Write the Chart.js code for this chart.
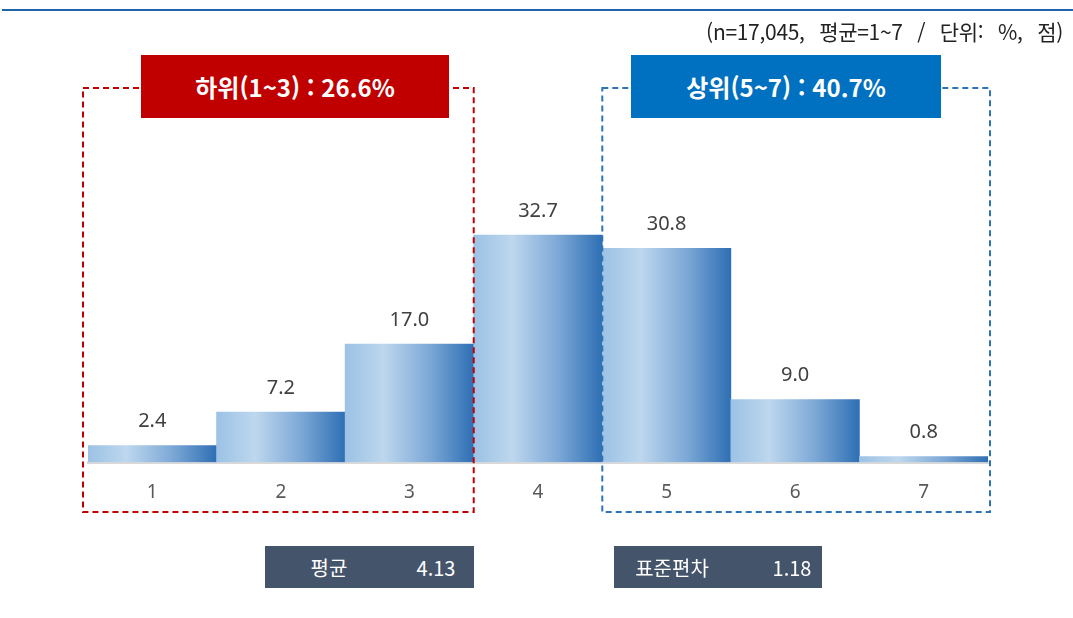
<!DOCTYPE html>
<html lang="ko">
<head>
<meta charset="utf-8">
<script src="https://cdn.jsdelivr.net/npm/chart.js@4.4.1/dist/chart.umd.min.js"></script>
<style>
    html, body { margin: 0; padding: 0; background: #fff; }
    body { width: 1073px; height: 618px; position: relative; overflow: hidden;
           font-family: "Noto Sans CJK KR", "Noto Sans", sans-serif; }
    #wrap { position: absolute; left: 0; top: 0; width: 1073px; height: 618px; }
    .topline { position: absolute; left: 2px; right: 0; top: 9px; height: 2px; background: #1f64ad; }
    .note { position: absolute; right: 10px; top: 16px; font-size: 21px; color: #222;
            letter-spacing: -0.3px; word-spacing: 9px; white-space: nowrap; }
    .tag { position: absolute; top: 55px; height: 63px; color: #fff; font-weight: bold;
           font-size: 24px; display: flex; align-items: center; justify-content: center; }
    .tag.low { left: 141px; width: 308px; background: #c00000; }
    .tag.high { left: 631px; width: 310px; background: #0070c0; }
    .stat { position: absolute; top: 546px; height: 42px; background: #44546a; color: #fff;
            font-size: 20px; }
    .stat span { position: absolute; top: 50%; transform: translate(-50%, -50%); white-space: nowrap; }
</style>
</head>
<body>
<div id="wrap"><canvas id="distChart"></canvas></div>
<div class="topline"></div>
<div class="note">(n=17,045, 평균=1~7 / 단위: %, 점)</div>
<div class="tag low" id="lowTag"></div>
<div class="tag high" id="highTag"></div>
<div class="stat" style="left:265px;width:209px;"><span style="left:64px;">평균</span><span style="left:171px;" id="meanVal"></span></div>
<div class="stat" style="left:614px;width:208px;"><span style="left:58px;">표준편차</span><span style="left:178px;" id="sdVal"></span></div>

<script>
// chart data
const categories = ['1', '2', '3', '4', '5', '6', '7'];
const shares = [2.4, 7.2, 17.0, 32.7, 30.8, 9.0, 0.8];
const lowLabel = '하위(1~3) : 26.6%';
const highLabel = '상위(5~7) : 40.7%';
const meanValue = '4.13';
const sdValue = '1.18';

document.getElementById('lowTag').textContent = lowLabel;
document.getElementById('highTag').textContent = highLabel;
document.getElementById('meanVal').textContent = meanValue;
document.getElementById('sdVal').textContent = sdValue;

function barGradient(context) {
    const chart = context.chart;
    if (!chart.chartArea) return '#7aa7d6';
    const xScale = chart.scales.x;
    const step = xScale.width / categories.length;
    const cx = xScale.getPixelForValue(context.dataIndex);
    const g = chart.ctx.createLinearGradient(cx - step / 2, 0, cx + step / 2, 0);
    g.addColorStop(0, '#9cc2e5');
    g.addColorStop(0.3, '#bdd7ee');
    g.addColorStop(0.65, '#7ea9d7');
    g.addColorStop(1, '#2e6fb4');
    return g;
}

// value labels above bars + dashed group boxes
const overlayPlugin = {
    id: 'overlay',
    afterDatasetsDraw(chart) {
        const ctx = chart.ctx;
        const meta = chart.getDatasetMeta(0);
        ctx.save();
        ctx.fillStyle = '#404040';
        ctx.font = '20px "Noto Sans", "DejaVu Sans", sans-serif';
        ctx.textAlign = 'center';
        ctx.textBaseline = 'middle';
        meta.data.forEach((bar, i) => {
            ctx.fillText(shares[i].toFixed(1), bar.x, bar.y - 24);
        });

        const xScale = chart.scales.x;
        const step = xScale.width / categories.length;
        const edge = i => xScale.left + step * i;
        ctx.lineWidth = 2;
        ctx.setLineDash([6, 4]);
        ctx.strokeStyle = '#c00000';
        ctx.strokeRect(edge(0) - 5, 88, edge(3) - edge(0) + 5, 424);
        ctx.strokeStyle = '#2e75b6';
        ctx.strokeRect(edge(4), 88, edge(7) - edge(4) + 2, 424);
        ctx.restore();
    }
};

const ctx = document.getElementById('distChart').getContext('2d');
const chart = new Chart(ctx, {
    type: 'bar',
    data: {
        labels: categories,
        datasets: [{
            data: shares,
            backgroundColor: barGradient,
            borderWidth: 0,
            categoryPercentage: 1,
            barPercentage: 1
        }]
    },
    options: {
        responsive: true,
        maintainAspectRatio: false,
        animation: false,
        layout: { padding: { left: 88, right: 85, top: 115, bottom: 95 } },
        plugins: {
            legend: { display: false },
            tooltip: { enabled: false }
        },
        scales: {
            y: { display: false, min: 0, max: 50 },
            x: {
                grid: { display: false, drawTicks: false },
                border: { display: true, color: '#d9d9d9', width: 3 },
                ticks: {
                    color: '#595959',
                    padding: 19,
                    font: { size: 19, family: '"Noto Sans", "DejaVu Sans", sans-serif' }
                }
            }
        }
    },
    plugins: [overlayPlugin]
});
</script>
</body>
</html>
